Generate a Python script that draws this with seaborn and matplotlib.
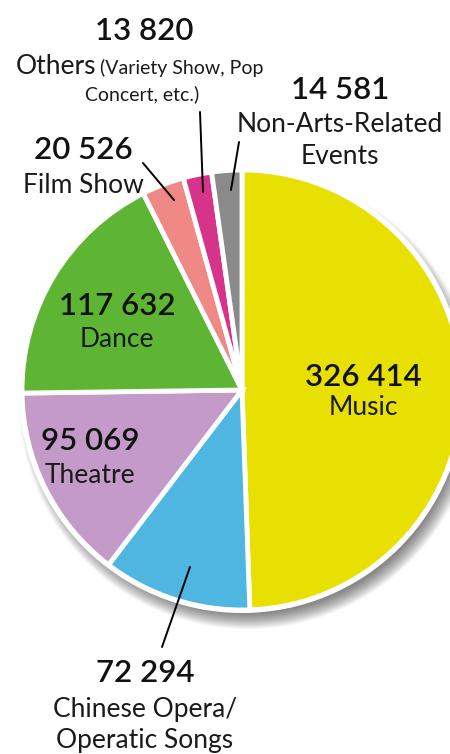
import matplotlib
matplotlib.use("Agg")
import matplotlib.pyplot as plt
import seaborn as sns
from matplotlib.patches import Circle

# Datos
categorias = ["Music", "Chinese Opera/\nOperatic Songs", "Theatre", "Dance",
              "Film Show", "Others", "Non-Arts-Related\nEvents"]
valores = [326414, 72294, 95069, 117632, 20526, 13820, 14581]
colores = ["#E8E000", "#4FB6E1", "#C49AC8", "#5EB534",
           "#F08886", "#D6338A", "#8A8A8A"]

sns.set_theme(style="white")
plt.rcParams['font.family'] = ['Lato', 'DejaVu Sans']

fig = plt.figure(figsize=(4.5, 7.54), dpi=100)
ax = fig.add_axes([0, 0, 1, 1])

H = 754
cx, cy, r = 242, H - 390, 220

# sombra difusa
for i in range(16):
    ax.add_patch(Circle((cx + 6, cy - 10), r + 9 - i * 1.0, color='black',
                        alpha=0.035, lw=0, zorder=0))
ax.add_patch(Circle((cx, cy), r + 3, color='white', lw=0, zorder=0.5))

ax.pie(valores, colors=sns.color_palette(colores), startangle=90, counterclock=False,
       center=(cx, cy), radius=r, frame=True,
       wedgeprops=dict(edgecolor='white', linewidth=3.5))
ax.set_xlim(0, 450)
ax.set_ylim(0, 754)
ax.set_aspect('equal')
ax.axis('off')


def fmt(v):
    return f"{v:,}".replace(",", " ")


NUM = 22.5
LAB = 19


def etiqueta(x, y_num, y_lab, valor, texto, sep=33):
    ax.text(x, H - y_num, fmt(valor), ha='center', va='baseline',
            fontsize=NUM, fontweight='semibold', color='#111111', zorder=5)
    for k, linea in enumerate(texto.split("\n")):
        ax.text(x, H - (y_lab + k * sep), linea, ha='center', va='baseline',
                fontsize=LAB, color='#1a1a1a', zorder=5)


etiqueta(363, 386, 415, valores[0], categorias[0])
etiqueta(145, 682, 717, valores[1], categorias[1], sep=31)
etiqueta(90, 450, 483, valores[2], categorias[2])
etiqueta(117, 315, 347, valores[3], categorias[3])
etiqueta(83, 159, 193, valores[4], categorias[4])
etiqueta(340, 99, 132, valores[6], categorias[6], sep=32)

# Others, con texto pequeño
ax.text(144, H - 40, fmt(valores[5]), ha='center', va='baseline',
        fontsize=NUM, fontweight='semibold', color='#111111', zorder=5)
t1 = ax.text(16, H - 74, categorias[5], ha='left', va='baseline',
             fontsize=LAB, color='#1a1a1a', zorder=5)
fig.canvas.draw()
bb = t1.get_window_extent()
ax.text(bb.x1 + 4, H - 74, "(Variety Show, Pop", ha='left', va='baseline',
        fontsize=14, color='#1a1a1a', zorder=5)
ax.text(142, H - 100, "Concert, etc.)", ha='center', va='baseline',
        fontsize=14, color='#1a1a1a', zorder=5)

# líneas guía
for (x0, y0), (x1, y1) in [((200, 112), (203, 192)), ((239, 142), (231, 190)),
                           ((143, 163), (174, 200)), ((190, 567), (162, 647))]:
    ax.plot([x0, x1], [H - y0, H - y1], color='black', lw=1.4, zorder=6)

fig.savefig('out.png', dpi=100)
